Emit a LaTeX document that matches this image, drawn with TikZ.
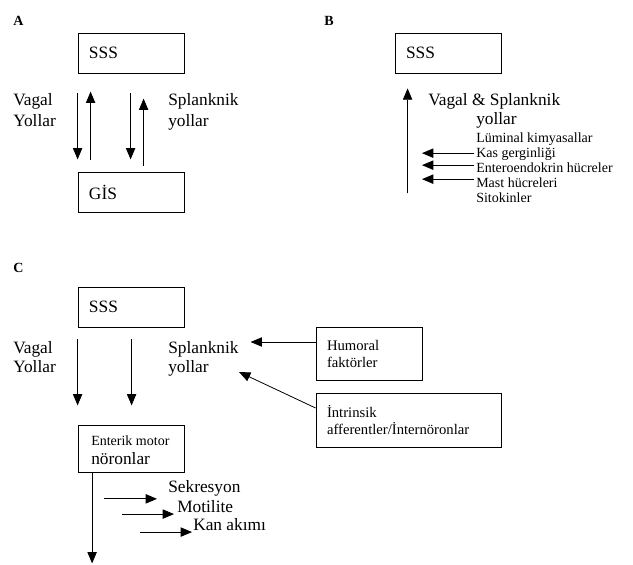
\documentclass[tikz,border=0pt]{standalone}
\usepackage{fontspec}
\setmainfont{Liberation Serif}
\usetikzlibrary{arrows.meta,calc}

\begin{document}
\begin{tikzpicture}[x=0.75pt, y=-0.75pt,
  kutu/.style={draw, line width=0.6pt, minimum height=30pt, text width=63pt,
    inner xsep=8.25pt, align=left, font=\fontsize{13}{16}\selectfont},
  ok/.style={line width=0.6pt, -{Triangle[length=8.5pt, width=7pt]}},
  yazi/.style={anchor=base west, inner sep=0pt, font=\fontsize{13}{16}\selectfont},
  kucuk/.style={anchor=base west, inner sep=0pt, font=\fontsize{10.5}{12}\selectfont},
  harf/.style={anchor=base west, inner sep=0pt, font=\fontsize{10.5}{12}\selectfont\bfseries}]

  \useasboundingbox (0,0) rectangle (633,565);

  % Panel A
  \node[harf] (harfA) at (13,25) {A};
  \node[kutu] (sssA) at (131,53) {SSS};
  \node[kutu] (gisA) at (131,192) {GİS};
  \node[yazi] (vagA) at (13,105) {Vagal};
  \node[yazi] (yolA) at (13,126) {Yollar};
  \node[yazi] (splA) at (168,105) {Splanknik};
  \node[yazi] (ylA) at (168,126) {yollar};
  \draw[ok] ($(sssA.south west)+(0,20)$) -- ++(0,66);
  \draw[ok] ($(gisA.north west)+(13,-12)$) -- ++(0,-68);
  \draw[ok] ($(sssA.south west)+(53,20)$) -- ++(0,66);
  \draw[ok] ($(gisA.north west)+(66,-6)$) -- ++(0,-67);

  % Panel B
  \node[harf] (harfB) at (324,25) {B};
  \node[kutu] (sssB) at (448,53) {SSS};
  \node[yazi] (vsB) at (428,105) {Vagal \& Splanknik};
  \node[yazi] (yolB) at (476,124) {yollar};
  \node[kucuk] (lum) at (476,142.5) {Lüminal kimyasallar};
  \node[kucuk] (kas) at (476,157.5) {Kas gerginliği};
  \node[kucuk] (ent) at (476,172.5) {Enteroendokrin hücreler};
  \node[kucuk] (mast) at (476,187.5) {Mast hücreleri};
  \node[kucuk] (sito) at (476,202.5) {Sitokinler};
  \draw[ok] ($(sssB.south west)+(13,120)$) -- ++(0,-105);
  \draw[ok] ($(kas.west)+(-2,-1)$) -- ++(-52,0);
  \draw[ok] ($(kas.west)+(-2,11)$) -- ++(-52,0);
  \draw[ok] ($(kas.west)+(-2,25)$) -- ++(-52,0);

  % Panel C
  \node[harf] (harfC) at (13,272) {C};
  \node[kutu] (sssC) at (131,307) {SSS};
  \node[yazi] (vagC) at (13,353) {Vagal};
  \node[yazi] (yolC) at (13,372) {Yollar};
  \node[yazi] (splC) at (168,353) {Splanknik};
  \node[yazi] (ylC) at (168,372) {yollar};
  \node[kutu, minimum height=35.25pt] (enb) at (131.5,448.5) {};
  \node[kucuk] (enm) at (91,445) {Enterik motor};
  \node[yazi] (enn) at (91,464) {nöronlar};
  \node[kutu, minimum height=39.75pt, font=\fontsize{11}{12.75}\selectfont] (hum) at (369,353.5)
    {Humoral\\faktörler};
  \node[kutu, minimum height=40.5pt, text width=122.25pt, font=\fontsize{11}{12.75}\selectfont] (intr) at (408.5,420)
    {İntrinsik\\afferentler/İnternöronlar};
  \draw[ok] ($(sssC.south west)+(0,12)$) -- ++(0,66);
  \draw[ok] ($(sssC.south west)+(54,12)$) -- ++(0,66);
  \draw[ok] ($(hum.west)+(0,-11.5)$) -- ++(-65,0);
  \draw[ok] ($(intr.west)+(0,-12)$) -- (239,372);
  \draw[ok] ($(enb.south west)+(14,0)$) -- ++(0,91);

  % Etkiler
  \node[yazi] (sek) at (168,492) {Sekresyon};
  \node[yazi] (mot) at (177,512) {Motilite};
  \node[yazi] (kan) at (193,530) {Kan akımı};
  \draw[ok] ($(sek.west)+(-64,11)$) -- ++(53,0);
  \draw[ok] ($(mot.west)+(-55,8)$) -- ++(52,0);
  \draw[ok] ($(kan.west)+(-53,8)$) -- ++(52,0);

\end{tikzpicture}
\end{document}
